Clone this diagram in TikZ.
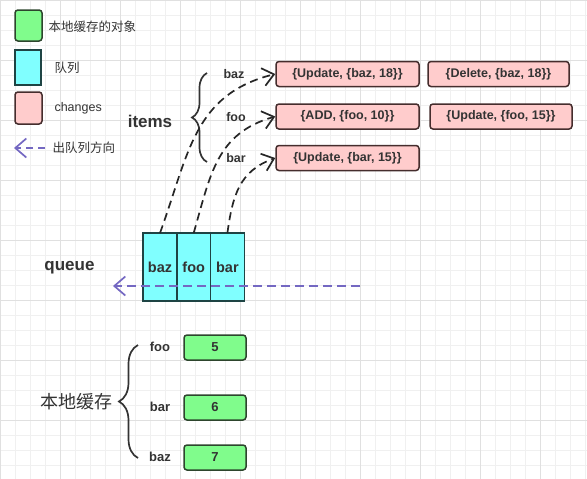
\documentclass[tikz,border=0pt]{standalone}
\usepackage{fontspec}
\setmainfont{Liberation Sans}
\newfontfamily\cjk{Noto Sans CJK SC}
\usepackage{tikz}
\usetikzlibrary{positioning,arrows.meta,decorations.pathreplacing}

\definecolor{gridminor}{HTML}{F0F0F0}
\definecolor{gridmajor}{HTML}{E0E0E0}
\definecolor{txt}{HTML}{333333}
\definecolor{greenfill}{HTML}{80FC8C}
\definecolor{greenline}{HTML}{2D452D}
\definecolor{cyanfill}{HTML}{80FFFF}
\definecolor{cyanline}{HTML}{1E4444}
\definecolor{pinkfill}{HTML}{FFCCCC}
\definecolor{pinkline}{HTML}{452D2D}
\definecolor{deq}{HTML}{7468C2}

\begin{document}
\begin{tikzpicture}[x = 1pt, y = -1pt,
  every node/.style = {text = txt},
  change/.style = {draw = pinkline, fill = pinkfill, line width = 1.5pt, rounded corners = 3pt,
    minimum width = 143pt, minimum height = 25pt, inner sep = 0pt, font = \bfseries\fontsize{12.5}{15}\selectfont},
  cached/.style = {draw = greenline, fill = greenfill, line width = 1.5pt, rounded corners = 3pt,
    minimum width = 62pt, minimum height = 25pt, inner sep = 0pt, font = \bfseries\fontsize{13}{15}\selectfont},
  cell/.style = {draw = cyanline, fill = cyanfill, line width = 1.5pt, outer sep = 0pt,
    minimum width = 33.7pt, minimum height = 68pt, inner sep = 0pt, font = \bfseries\fontsize{14.5}{17}\selectfont},
  key/.style = {font = \bfseries\fontsize{12.5}{15}\selectfont},
  title/.style = {font = \bfseries\fontsize{17}{20}\selectfont},
  legend/.style = {font = \fontsize{12.5}{15}\selectfont, anchor = west},
  curly/.style = {decorate, decoration = {brace, amplitude = #1}, line width = 1.7pt, draw = txt},
  link/.style = {line width = 1.7pt, draw = black!85, dash pattern = on 8pt off 5pt,
    -{Straight Barb[length = 11pt, width = 18pt]}},
  dequeue/.style = {line width = 1.7pt, draw = deq, dash pattern = on 9pt off 5pt,
    -{Straight Barb[length = 11pt, width = 19pt]}}]
\useasboundingbox (0, 0) rectangle (587, 479);
% background grid
\foreach \gx in {0, 15, ..., 585} \draw [gridminor, line width = 0.5pt] (\gx, 0) -- (\gx, 479);
\foreach \gy in {0, 15, ..., 465} \draw [gridminor, line width = 0.5pt] (0, \gy) -- (587, \gy);
\foreach \gx in {0, 60, ..., 540} \draw [gridmajor, line width = 0.7pt] (\gx, 0) -- (\gx, 479);
\foreach \gy in {0, 60, ..., 420} \draw [gridmajor, line width = 0.7pt] (0, \gy) -- (587, \gy);

% legend
\node [cached, minimum width = 27pt, minimum height = 31pt] (legobj) at (28.5, 25.5) {};
\node [cell, minimum width = 26pt, minimum height = 35pt] (legqueue) at (28, 67.5) {};
\node [change, minimum width = 27pt, minimum height = 32pt] (legchange) at (28.5, 108) {};
\node [legend] (legobjtext) at (45, 27) {\cjk 本地缓存的对象};
\node [legend] (legqueuetext) at (51, 68) {\cjk 队列};
\node [legend] (legchangetext) at (51, 108) {changes};
\coordinate (legS) at (45, 148);
\coordinate (legE) at (14, 148);
\draw [dequeue, dash pattern = on 7pt off 5pt] (legS) -- (legE);
\node [legend] (legdeqtext) at (49, 148) {\cjk 出队列方向};

% items
\node [title] (items) at (150, 121) {items};
\draw [curly = 15pt] (207, 162) -- (207, 73);
\node [key] (kbaz) at (234, 74) {baz};
\node [key] (kfoo) at (236, 117) {foo};
\node [key] (kbar) at (236, 158) {bar};
\node [change] (upbaz) at (347.5, 74) {\{Update, \{baz, 18\}\}};
\node [change, minimum width = 141pt] (delbaz) at (498.5, 74) {\{Delete, \{baz, 18\}\}};
\node [change] (addfoo) at (347.5, 116.5) {\{ADD, \{foo, 10\}\}};
\node [change, minimum width = 142pt] (upfoo) at (501, 116.5) {\{Update, \{foo, 15\}\}};
\node [change] (upbar) at (347.5, 158) {\{Update, \{bar, 15\}\}};

% queue
\node [title] (queue) at (69.5, 268) {queue};
\node [cell] (qbaz) at (160, 267) {baz};
\node [cell, right = 0pt of qbaz] (qfoo) {foo};
\node [cell, right = 0pt of qfoo] (qbar) {bar};
\draw [link] (qbaz.north) to [out = 70, in = 194, looseness = 1.1] (upbaz.west);
\draw [link] (qfoo.north) to [out = 74, in = 196, looseness = 1.1] (addfoo.west);
\draw [link] (qbar.north) to [out = 82, in = 200, looseness = 1.1] (upbar.west);
\coordinate (deqS) at (360, 286);
\coordinate (deqE) at (113, 286);
\draw [dequeue] (deqS) -- (deqE);

% local cache
\node [font = \fontsize{18}{21}\selectfont] (cache) at (76, 402) {\cjk 本地缓存};
\draw [curly = 19pt] (138, 458) -- (138, 345);
\node [key, font = \bfseries\fontsize{13}{15}\selectfont] (cfoo) at (160, 347) {foo};
\node [key, font = \bfseries\fontsize{13}{15}\selectfont] (cbar) at (160, 407) {bar};
\node [key, font = \bfseries\fontsize{13}{15}\selectfont] (cbaz) at (160, 457) {baz};
\node [cached] (val5) at (215, 347.5) {5};
\node [cached] (val6) at (215, 407.5) {6};
\node [cached] (val7) at (215, 457.5) {7};
\end{tikzpicture}
\end{document}
